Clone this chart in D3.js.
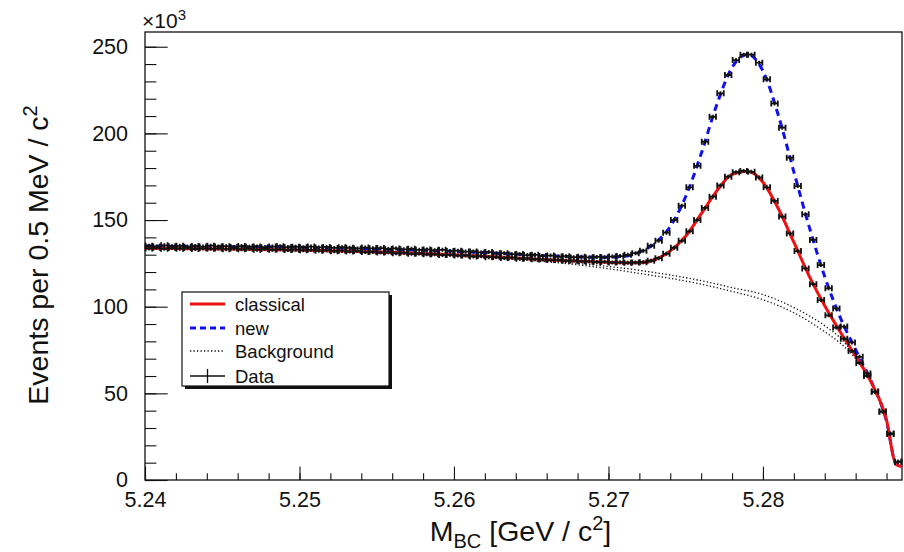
<!DOCTYPE html>
<html>
<head>
<meta charset="utf-8">
<script src="https://cdn.jsdelivr.net/npm/d3@7"></script>
<style>
	body { margin: 0; background: #fff; }
	text { font-family: "Liberation Sans", Arial, sans-serif; fill: #111; }
</style>
</head>
<body>
<svg id="chart" width="904" height="552"></svg>
<script>
// binning: 0.5 MeV bins from 5.240 to 5.289 GeV
var binStart = 5.24,
	binWidth = 0.0005;

// data, events per bin (x10^3), classical sample
var dataClassical = [
	133.6, 134.0, 133.4, 133.8, 133.5, 133.9, 133.3, 133.7, 133.4, 133.6,
	133.2, 133.6, 133.1, 133.5, 132.9, 133.3, 132.8, 133.1, 132.7, 132.9,
	132.5, 132.8, 132.3, 132.6, 132.0, 132.3, 131.8, 132.1, 131.5, 131.7,
	131.2, 131.4, 130.9, 131.1, 130.5, 130.7, 130.2, 130.3, 129.8, 129.9,
	129.5, 129.6, 129.0, 129.2, 128.6, 128.7, 128.1, 128.3, 127.7, 127.8,
	127.4, 127.3, 126.9, 127.0, 126.5, 126.6, 126.2, 126.1, 125.8, 125.9,
	125.5, 125.6, 125.3, 125.5, 125.7, 126.5, 128.0, 130.5, 134.0, 138.0,
	143.5, 150.0, 157.0, 163.5, 170.0, 175.0, 177.6, 178.3, 177.8, 174.6,
	168.9, 161.0, 152.0, 142.3, 132.1, 122.1, 113.0, 103.8, 95.0, 88.0,
	81.5, 74.5, 67.5, 60.0, 51.0, 39.5, 26.5, 10.5
];

// data, events per bin (x10^3), new sample
var dataNew = [
	135.2, 134.8, 135.4, 134.9, 135.1, 134.6, 135.0, 134.7, 135.2, 134.8,
	134.9, 134.5, 135.0, 134.6, 134.8, 134.3, 134.7, 134.9, 134.4, 134.6,
	134.3, 134.7, 134.2, 134.5, 133.9, 134.3, 134.0, 133.6, 134.1, 133.7,
	133.8, 133.3, 133.6, 133.1, 133.4, 132.8, 133.0, 132.5, 132.8, 132.2,
	132.3, 131.8, 131.9, 131.3, 131.5, 130.8, 130.9, 130.3, 130.4, 129.8,
	129.9, 129.3, 129.5, 128.9, 129.1, 128.6, 128.8, 128.4, 128.7, 128.5,
	128.9, 129.2, 129.9, 130.9, 132.3, 135.2, 138.1, 142.7, 150.0, 158.3,
	168.9, 181.3, 195.2, 209.6, 223.1, 233.7, 242.3, 245.4, 245.4, 240.8,
	231.2, 217.3, 203.3, 186.0, 169.6, 153.3, 138.5, 124.0, 110.6, 99.0,
	88.5, 79.4, 71.1, 61.5, 50.9, 39.4, 26.9, 10.6
];

// fit curves
var fitX = [5.240, 5.245, 5.250, 5.255, 5.260, 5.264, 5.267, 5.269, 5.270, 5.271,
	5.272, 5.273, 5.274, 5.275, 5.276, 5.277, 5.278, 5.279, 5.280, 5.281,
	5.282, 5.283, 5.284, 5.285, 5.286, 5.287, 5.288, 5.2886, 5.289];
var fitClassical = [133.7, 133.3, 132.7, 131.6, 130.0, 128.1, 126.7, 125.9, 125.6, 125.4,
	125.4, 127.1, 132.2, 140.7, 153.5, 166.7, 176.3, 178.1, 171.8, 156.5,
	137.2, 117.5, 100.5, 85.5, 71.5, 56.5, 34.5, 9.0, 7.7];
var fitNew = [135.0, 134.7, 134.3, 133.2, 131.9, 130.3, 129.0, 128.6, 128.6, 129.0,
	131.5, 136.6, 146.3, 163.6, 188.2, 216.3, 238.0, 245.6, 236.0, 210.3,
	177.8, 145.9, 117.3, 93.8, 75.2, 57.0, 33.8, 9.5, 7.7];

// background components
var bgX = [5.240, 5.244, 5.248, 5.252, 5.256, 5.260, 5.264, 5.268, 5.272, 5.276,
	5.278, 5.280, 5.282, 5.284, 5.285, 5.286, 5.287, 5.288, 5.2886, 5.289];
var bgNew = [134.0, 133.5, 132.9, 132.0, 130.9, 129.6, 127.8, 125.0, 121.0, 115.0,
	111.0, 107.0, 99.5, 89.0, 82.0, 71.0, 56.5, 34.0, 9.5, 7.7];
var bgClassical = [133.7, 133.2, 132.6, 131.8, 130.6, 129.2, 127.2, 124.2, 119.2, 113.0,
	108.8, 104.0, 96.5, 85.5, 79.0, 70.0, 56.0, 33.8, 9.0, 7.7];

var xTicks = [5.24, 5.25, 5.26, 5.27, 5.28];
var yTicks = [0, 50, 100, 150, 200, 250];

var legendItems = ["classical", "new", "Background", "Data"];

// ------------------------------------------------------------

(function() {
	var svg = d3.select("#chart");

	var mLeft = 145, mRight = 902, mTop = 32, mBottom = 480;

	var x = d3.scaleLinear().domain([5.24, 5.289]).range([mLeft, mRight]);
	var y = d3.scaleLinear().domain([0, 258.5]).range([mBottom, mTop]);

	// axes, ticks pointing inward (ROOT style)
	svg.append("g")
		.attr("transform", "translate(0," + mBottom + ")")
		.call(d3.axisBottom(x).tickValues(xTicks).tickSize(-13.4).tickPadding(12)
			.tickFormat(d3.format(".2f")));
	svg.append("g")
		.attr("transform", "translate(0," + mBottom + ")")
		.call(d3.axisBottom(x).tickValues(d3.range(5.24, 5.2891, 0.002)).tickSize(-6.7).tickFormat(""));

	svg.append("g")
		.attr("transform", "translate(" + mLeft + ",0)")
		.call(d3.axisLeft(y).tickValues(yTicks).tickSize(-22.7).tickPadding(17));
	svg.append("g")
		.attr("transform", "translate(" + mLeft + ",0)")
		.call(d3.axisLeft(y).tickValues(d3.range(0, 258, 10)).tickSize(-11.4).tickFormat(""));

	svg.selectAll(".domain").remove();
	svg.selectAll(".tick line").attr("stroke", "#111").attr("stroke-width", 1.1);
	svg.selectAll(".tick text")
		.style("font-size", "21.5px")
		.style("font-family", '"Liberation Sans", Arial, sans-serif')
		.attr("fill", "#111");

	// frame
	svg.append("rect")
		.attr("x", mLeft)
		.attr("y", mTop)
		.attr("width", mRight - mLeft)
		.attr("height", mBottom - mTop)
		.attr("fill", "none")
		.attr("stroke", "#111")
		.attr("stroke-width", 1.3);

	// x10^3
	var ex = svg.append("text").attr("x", 142).attr("y", 28).style("font-size", "21px");
	ex.append("tspan").text("\u00d710");
	ex.append("tspan").attr("dy", -8).style("font-size", "15px").text("3");

	// axis titles
	var xt = svg.append("text")
		.attr("x", (mLeft + mRight) / 2 - 3)
		.attr("y", 541)
		.attr("text-anchor", "middle")
		.style("font-size", "28.5px");
	xt.append("tspan").text("M");
	xt.append("tspan").attr("dy", 7).style("font-size", "20px").text("BC");
	xt.append("tspan").attr("dy", -7).text(" [GeV / c");
	xt.append("tspan").attr("dy", -11).style("font-size", "20px").text("2");
	xt.append("tspan").attr("dy", 11).text("]");

	var yt = svg.append("text")
		.attr("transform", "translate(48,255) rotate(-90)")
		.attr("text-anchor", "middle")
		.style("font-size", "28.5px");
	yt.append("tspan").text("Events per 0.5 MeV / c");
	yt.append("tspan").attr("dy", -11).style("font-size", "20px").text("2");

	// curves
	var plot = svg.append("g");

	function curve(xs, ys) {
		return d3.line()
			.x((d, i) => x(xs[i]))
			.y(d => y(d))
			.curve(d3.curveMonotoneX)(ys);
	}

	[bgNew, bgClassical].forEach(function(bg) {
		plot.append("path")
			.attr("d", curve(bgX, bg))
			.attr("fill", "none")
			.attr("stroke", "#111")
			.attr("stroke-width", 1.3)
			.attr("stroke-dasharray", "1.3,2.2");
	});

	plot.append("path")
		.attr("d", curve(fitX, fitNew))
		.attr("fill", "none")
		.attr("stroke", "#1010ee")
		.attr("stroke-width", 3)
		.attr("stroke-dasharray", "7,5");

	plot.append("path")
		.attr("d", curve(fitX, fitClassical))
		.attr("fill", "none")
		.attr("stroke", "#ee1111")
		.attr("stroke-width", 3);

	// data points with bin-width error bars and end caps
	function drawData(values) {
		var g = plot.append("g")
			.selectAll("g")
			.data(values)
			.enter()
			.append("g")
			.attr("transform", (d, i) =>
				"translate(" + x(binStart + (i + 0.5) * binWidth) + "," + y(d) + ")");
		var hw = (x(binStart + binWidth) - x(binStart)) / 2 - 0.6;
		g.append("path")
			.attr("d",
				"M" + -hw + ",0H" + hw +
				"M" + -hw + ",-3V3" +
				"M" + hw + ",-3V3" +
				"M0,-2V2")
			.attr("fill", "none")
			.attr("stroke", "#111")
			.attr("stroke-width", 1.8);
	}
	drawData(dataNew);
	drawData(dataClassical);

	// legend
	var lg = svg.append("g").attr("transform", "translate(182,292)");
	lg.append("rect")
		.attr("x", 3).attr("y", 3)
		.attr("width", 207).attr("height", 94)
		.attr("fill", "#111");
	lg.append("rect")
		.attr("width", 207).attr("height", 94)
		.attr("fill", "#fff")
		.attr("stroke", "#111")
		.attr("stroke-width", 1.2);

	var rowY = [12, 36, 59, 84];
	var row = lg.selectAll(".row")
		.data(legendItems)
		.enter()
		.append("g")
		.attr("transform", (d, i) => "translate(0," + rowY[i] + ")");

	row.append("text")
		.attr("x", 53)
		.attr("y", 6.5)
		.style("font-size", "18.5px")
		.text(d => d);

	row.each(function(d, i) {
		var r = d3.select(this);
		if (i == 0) {
			r.append("line").attr("x1", 8).attr("x2", 43)
				.attr("stroke", "#ee1111").attr("stroke-width", 3);
		} else if (i == 1) {
			r.append("line").attr("x1", 8).attr("x2", 43)
				.attr("stroke", "#1010ee").attr("stroke-width", 3)
				.attr("stroke-dasharray", "6,4");
		} else if (i == 2) {
			r.append("line").attr("x1", 8).attr("x2", 43)
				.attr("stroke", "#111").attr("stroke-width", 1.3)
				.attr("stroke-dasharray", "1.3,2.2");
		} else {
			r.append("path").attr("d", "M8,0H43M25.5,-7V7")
				.attr("fill", "none").attr("stroke", "#111").attr("stroke-width", 1.3);
		}
	});
})();
</script>
</body>
</html>
